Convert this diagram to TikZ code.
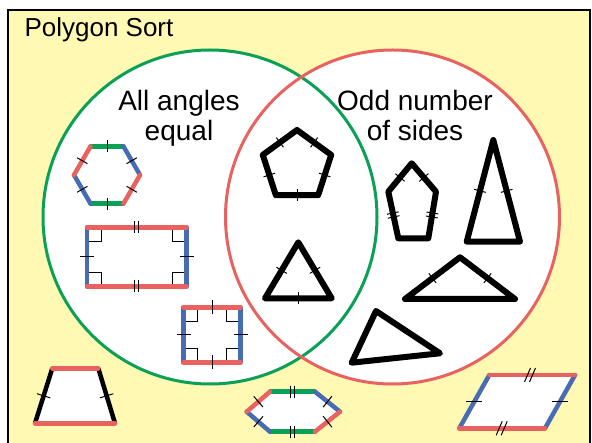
\documentclass[tikz,border=0pt]{standalone}
\usepackage{fontspec}
\setmainfont{Liberation Sans}
\usetikzlibrary{calc}
\definecolor{bgyellow}{RGB}{255,249,180}
\definecolor{vgreen}{RGB}{10,160,85}
\definecolor{vred}{RGB}{232,98,96}
\definecolor{vblue}{RGB}{72,108,178}
\tikzset{
  edgeline/.style={line width=4.5pt, line cap=round},
  blackpoly/.style={line width=6pt, line join=round, fill=white},
  tickline/.style={line width=1pt, black},
  ramark/.style={line width=1pt, black},
  lab/.style={font=\fontsize{28}{30}\selectfont, anchor=base},
  ring/.style={line width=3pt},
}
\newcommand\tk[3][6]{\draw[tickline] ($(#2)!0.5!(#3)!#1pt!90:(#3)$) -- ($(#2)!0.5!(#3)!#1pt!-90:(#3)$);}
\newcommand\tkoff[3]{\coordinate (tmpm) at ($(#1)!0.5!(#2)!#3pt!(#2)$); \draw[tickline] ($(tmpm)!6pt!90:(#2)$) -- ($(tmpm)!6pt!-90:(#2)$);}
\newcommand\dtk[2]{\tkoff{#1}{#2}{2}\tkoff{#1}{#2}{-2}}
\begin{document}
\begin{tikzpicture}[x=1pt,y=-1pt]
\useasboundingbox (0,0) rectangle (592,443);
\fill[white] (0,0) rectangle (592,443);
\draw[fill=bgyellow, line width=1.5pt] (8,10) rectangle (590,452);
% circles
\fill[white] (210,217) circle[radius=167];
\fill[white] (392.5,217) circle[radius=167];
\draw[ring, vgreen] (210,217) circle[radius=167];
\draw[ring, vred] (392.5,217) circle[radius=167];
% texts
\node[font=\fontsize{26}{28}\selectfont, anchor=base west] (title) at (21,37) {Polygon Sort};
\node[lab] (t1) at (179,111) {All angles};
\node[lab] (t2) at (179,141) {equal};
\node[lab] (t3) at (415,111) {Odd number};
\node[lab] (t4) at (415,141) {of sides};
% hexagon 1
\coordinate (a1) at (123.5,146.4);
\coordinate (a2) at (140,175);
\coordinate (a3) at (123.5,203.6);
\coordinate (a4) at (90.5,203.6);
\coordinate (a5) at (74,175);
\coordinate (a6) at (90.5,146.4);
\fill[white] (a1)--(a2)--(a3)--(a4)--(a5)--(a6)--cycle;
\draw[edgeline, vgreen] (a6)--(a1);
\draw[edgeline, vgreen] (a3)--(a4);
\draw[edgeline, vblue] (a1)--(a2);
\draw[edgeline, vblue] (a4)--(a5);
\draw[edgeline, vred] (a2)--(a3);
\draw[edgeline, vred] (a5)--(a6);
\tk{a6}{a1}\tk{a1}{a2}\tk{a2}{a3}\tk{a3}{a4}\tk{a4}{a5}\tk{a5}{a6}
% rectangle
\coordinate (r1) at (87,227.5);
\coordinate (r2) at (186.5,227.5);
\coordinate (r3) at (186.5,286.5);
\coordinate (r4) at (87,286.5);
\fill[white] (r1) rectangle (r3);
\draw[ramark] (87,241.5) -- (101,241.5) -- (101,227.5);
\draw[ramark] (186.5,241.5) -- (172.5,241.5) -- (172.5,227.5);
\draw[ramark] (87,272.5) -- (101,272.5) -- (101,286.5);
\draw[ramark] (186.5,272.5) -- (172.5,272.5) -- (172.5,286.5);
\draw[edgeline, vblue] (r1)--(r4);
\draw[edgeline, vblue] (r2)--(r3);
\draw[edgeline, vred] (r1)--(r2);
\draw[edgeline, vred] (r4)--(r3);
\tk[7]{r1}{r4}\tk[7]{r2}{r3}\dtk{r1}{r2}\dtk{r4}{r3}
% square
\coordinate (s1) at (183.5,307.5);
\coordinate (s2) at (240.5,307.5);
\coordinate (s3) at (240.5,362.5);
\coordinate (s4) at (183.5,362.5);
\fill[white] (s1) rectangle (s3);
\draw[ramark] (183.5,321.5) -- (197.5,321.5) -- (197.5,307.5);
\draw[ramark] (240.5,321.5) -- (226.5,321.5) -- (226.5,307.5);
\draw[ramark] (183.5,348.5) -- (197.5,348.5) -- (197.5,362.5);
\draw[ramark] (240.5,348.5) -- (226.5,348.5) -- (226.5,362.5);
\draw[edgeline, vblue] (s1)--(s4);
\draw[edgeline, vblue] (s2)--(s3);
\draw[edgeline, vred] (s1)--(s2);
\draw[edgeline, vred] (s4)--(s3);
\tk[7]{s1}{s4}\tk[7]{s2}{s3}\tk[7]{s1}{s2}\tk[7]{s4}{s3}
% regular pentagon
\coordinate (p1) at (297,130);
\coordinate (p2) at (331.2,154.9);
\coordinate (p3) at (318.2,195.1);
\coordinate (p4) at (275.8,195.1);
\coordinate (p5) at (262.8,154.9);
\draw[blackpoly] (p1)--(p2)--(p3)--(p4)--(p5)--cycle;
\tk{p1}{p2}\tk{p2}{p3}\tk{p3}{p4}\tk{p4}{p5}\tk{p5}{p1}
% equilateral triangle
\coordinate (e1) at (298.3,242.3);
\coordinate (e2) at (331.7,298.3);
\coordinate (e3) at (265,298.3);
\draw[blackpoly] (e1)--(e2)--(e3)--cycle;
\tk{e1}{e2}\tk{e2}{e3}\tk{e3}{e1}
% irregular pentagon
\coordinate (q1) at (411.7,163.3);
\coordinate (q2) at (436,191.7);
\coordinate (q3) at (428.3,238.3);
\coordinate (q4) at (398.3,238.3);
\coordinate (q5) at (388.3,191.7);
\draw[blackpoly] (q1)--(q2)--(q3)--(q4)--(q5)--cycle;
\tk{q1}{q2}\tk{q5}{q1}\dtk{q2}{q3}\dtk{q4}{q5}
% tall isosceles triangle
\coordinate (i1) at (493.3,140);
\coordinate (i2) at (520,241.7);
\coordinate (i3) at (466.7,241.7);
\draw[blackpoly] (i1)--(i2)--(i3)--cycle;
\tk{i1}{i2}\tk{i3}{i1}
% wide isosceles triangle
\coordinate (w1) at (460,257.3);
\coordinate (w2) at (515,299);
\coordinate (w3) at (405,299);
\draw[blackpoly] (w1)--(w2)--(w3)--cycle;
\tk{w1}{w2}\tk{w3}{w1}
% scalene triangle
\coordinate (c1) at (376,311);
\coordinate (c2) at (440,353.3);
\coordinate (c3) at (351.7,362.7);
\draw[blackpoly] (c1)--(c2)--(c3)--cycle;
% trapezoid
\coordinate (z1) at (52.3,368.3);
\coordinate (z2) at (98.3,368.3);
\coordinate (z3) at (115,423.3);
\coordinate (z4) at (35,423.3);
\fill[white] (z1)--(z2)--(z3)--(z4)--cycle;
\draw[edgeline, black, line cap=butt] (z1)--(z4);
\draw[edgeline, black, line cap=butt] (z2)--(z3);
\draw[edgeline, vred] (z1)--(z2);
\draw[edgeline, vred] (z4)--(z3);
\tk[7]{z1}{z4}\tk[7]{z2}{z3}
% hexagon 2
\coordinate (h1) at (270,391.7);
\coordinate (h2) at (315,391.7);
\coordinate (h3) at (340,411.7);
\coordinate (h4) at (315,431.7);
\coordinate (h5) at (270,431.7);
\coordinate (h6) at (246.7,411.7);
\fill[white] (h1)--(h2)--(h3)--(h4)--(h5)--(h6)--cycle;
\draw[edgeline, vgreen] (h1)--(h2);
\draw[edgeline, vgreen] (h4)--(h5);
\draw[edgeline, vblue] (h2)--(h3);
\draw[edgeline, vblue] (h5)--(h6);
\draw[edgeline, vred] (h3)--(h4);
\draw[edgeline, vred] (h6)--(h1);
\dtk{h1}{h2}\dtk{h4}{h5}\tk[7]{h2}{h3}\tk[7]{h3}{h4}\tk[7]{h5}{h6}\tk[7]{h6}{h1}
% parallelogram
\coordinate (g1) at (489.3,375);
\coordinate (g2) at (575,375);
\coordinate (g3) at (545,428.3);
\coordinate (g4) at (459.3,428.3);
\fill[white] (g1)--(g2)--(g3)--(g4)--cycle;
\draw[edgeline, vblue] (g1)--(g4);
\draw[edgeline, vblue] (g2)--(g3);
\draw[edgeline, vred] (g1)--(g2);
\draw[edgeline, vred] (g4)--(g3);
\coordinate (gl) at ($(g1)!0.5!(g4)$);
\coordinate (gr) at ($(g2)!0.5!(g3)$);
\draw[tickline] ($(gl)+(-8,0)$) -- ($(gl)+(8,0)$);
\draw[tickline] ($(gr)+(-8,0)$) -- ($(gr)+(8,0)$);
\coordinate (gt) at (530,375);
\coordinate (gb) at (501.7,428.3);
\draw[tickline] ($(gt)+(-5.5,7)$) -- ($(gt)+(0.5,-7)$);
\draw[tickline] ($(gt)+(-0.5,7)$) -- ($(gt)+(5.5,-7)$);
\draw[tickline] ($(gb)+(-5.5,7)$) -- ($(gb)+(0.5,-7)$);
\draw[tickline] ($(gb)+(-0.5,7)$) -- ($(gb)+(5.5,-7)$);
\end{tikzpicture}
\end{document}
